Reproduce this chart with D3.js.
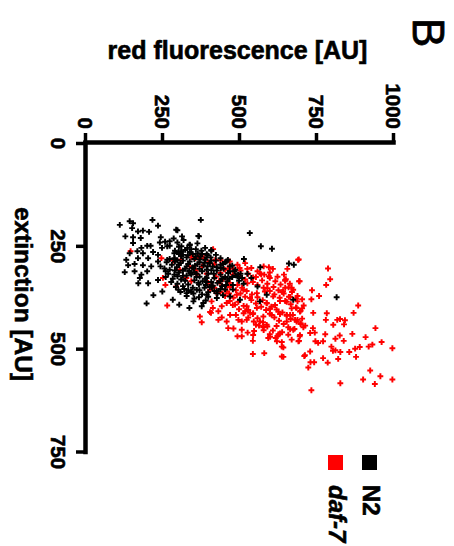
<!DOCTYPE html>
<html>
<head>
<meta charset="utf-8">
<script src="https://cdn.jsdelivr.net/npm/d3@7"></script>
<style>
    body { margin: 0; background: #fff; }
    svg { display: block; font-family: "Liberation Sans", Arial, sans-serif; }
    .heavy { stroke: #000; stroke-width: 0.6px; }
</style>
</head>
<body>
<svg id="chart" width="454" height="546"></svg>
<script>
// Axis ticks
const fluorTicks = [0, 250, 500, 750, 1000];
const extTicks = [0, 250, 500, 750];

// Legend
const seriesNames = ['N2', 'daf-7'];
const seriesColors = ['#000000', '#ff0000'];

// Points as [extinction, red fluorescence]
const n2Points = [
    [187,376],[227,370],[219,535],[251,571],[257,607],[260,410],[282,516],[284,464],[293,662],[296,678],
    [302,569],[320,497],[318,527],[349,560],[328,540],[273,397],[292,405],[304,441],[375,817],[199,113],
    [190,145],[195,156],[187,219],[201,237],[207,153],[215,172],[213,188],[216,208],[211,296],[227,131],
    [229,156],[231,181],[229,246],[227,315],[239,275],[242,243],[243,156],[250,202],[250,213],[255,183],
    [251,267],[251,313],[255,332],[247,340],[263,170],[268,188],[265,221],[272,237],[268,145],[265,304],
    [273,334],[284,134],[280,172],[280,205],[288,237],[284,267],[282,291],[297,140],[294,161],[297,188],
    [300,215],[314,129],[312,161],[320,183],[312,202],[328,178],[341,205],[333,237],[390,200],[370,222],
    [341,173],[361,251],[381,285],[393,306],[401,339],[397,379],[212,300],[226,368],[357,303],[365,330],
    [357,363],[369,395],[377,428],[373,471],[381,503],[385,352],[389,384],[385,568],[369,590],[381,676],
    [300,330],[305,352],[310,318],[295,365],[312,380],[320,345],[318,362],[325,372],[330,390],[288,340],
    [292,310],[302,298],[315,305],[322,330],[334,355],[340,368],[345,392],[338,410],[328,420],[318,400],
    [308,395],[298,385],[290,372],[282,355],[278,330],[285,300],[296,282],[308,275],[320,290],[332,312],
    [344,335],[352,350],[358,372],[350,405],[340,430],[330,445],[320,440],[310,428],[300,415],[292,405],
    [284,390],[276,375],[270,350],[272,318],[280,290],[290,265],[305,258],[318,270],[330,285],[342,300],
    [355,322],[362,345],[368,380],[360,420],[348,445],[336,462],[326,478],[316,465],[306,450],[296,440],
    [286,425],[278,408],[270,395],[262,378],[265,340],[275,312],[268,290],[282,275],[300,245],[312,262],
    [326,262],[338,280],[350,295],[362,310],[372,330],[378,355],[374,400],[366,430],[356,455],[345,480],
    [335,500],[325,495],[312,485],[300,470],[290,455],[280,440],[272,425],[262,410],[255,390],[258,360],
    [260,325],[252,305],[262,292],[248,340],[242,300],[250,275],[236,320],[244,365],[240,260],[255,250],
    [232,288],[286,318],[294,335],[303,348],[311,338],[298,357],[306,372],[314,355],[323,318],[328,395],
    [336,382],[344,370],[352,388],[347,415],[336,440],[326,455],[318,418],[309,410],[300,398],[291,388],
    [283,372],[276,360],[268,366],[258,345],[263,312],[270,305],[288,292],[296,305],[310,292],[324,300],
    [335,325],[348,318],[358,335],[366,352],[375,370],[383,392],[363,400],[355,440],[345,458],[330,468],
    [322,490],[312,470],[302,428],[294,448],[286,410],[278,395],[270,380],[306,325],[316,342],[326,362],
    [338,395],[350,412],[360,428],[370,448],[356,480],[342,515],[328,510],[318,505],[308,488],[298,478],
    [288,460]
];

const daf7Points = [
    [283,694],[305,789],[336,695],[331,796],[345,783],[358,737],[372,760],[380,735],[395,887],[402,705],
    [413,741],[414,785],[413,872],[427,705],[438,700],[444,715],[448,709],[450,740],[430,782],[430,819],
    [428,828],[431,844],[442,806],[441,841],[450,943],[462,731],[461,746],[465,780],[468,827],[464,868],
    [470,697],[481,695],[482,748],[486,757],[482,773],[476,813],[481,840],[472,911],[484,963],[490,933],
    [495,921],[496,892],[500,877],[495,800],[505,805],[504,813],[508,829],[508,858],[499,998],[507,731],
    [518,712],[523,773],[525,822],[520,880],[533,732],[533,744],[534,788],[546,725],[553,926],[575,903],
    [567,959],[575,998],[586,941],[584,829],[601,735],
    [395,267],[422,373],[436,379],[413,409],[430,433],[424,444],[450,465],[434,460],[418,490],[434,509],
    [454,509],[470,495],[470,509],[461,528],[481,545],[513,545],[511,582],[457,549],[442,555],[448,579],
    [442,590],[434,568],[474,595],[474,619],[482,623],[465,628],[497,644],[519,639],[484,639],[466,660],
    [454,676],[478,671],[482,693],[434,687],[434,655],[418,666],[416,633],[418,606],[403,601],[413,536],
    [409,520],[418,471],[409,433],[411,406],
    [258,416],[284,692],[302,597],[304,502],[306,527],[306,481],[306,657],[327,546],[319,572],[324,597],
    [320,646],[333,650],[336,697],[353,592],[351,661],[341,527],[280,386],[278,370],[284,423],[263,148],
    [280,358],[280,248],[286,286],[284,311],[278,345],[277,367],[328,253],[345,261],[349,296],[328,329],
    [336,345],[320,365],[300,340],[308,308],
    [317,568],[331,652],[352,671],[362,640],[374,666],[378,685],[386,655],[384,633],[394,617],[402,671],
    [410,698],[430,682],[418,655],[410,628],[422,579],[414,546],[430,525],[447,579],[445,622],[453,666],
    [463,633],[471,601],[467,698],[467,546],[430,498],[451,482],[495,639],[520,644],[516,714],
    [357,406],[365,427],[361,460],[369,493],[357,514],[377,536],[365,558],[361,584],[373,611],[361,643],
    [357,676],[389,590],[401,687],[393,487],[389,460],[397,525],[401,558],[385,411],[397,444],[401,415],
    [330,450],[340,470],[345,495],[352,510],[360,525],[368,542],[375,560],[382,577],[390,590],[398,605],
    [405,622],[412,641],[420,655],[428,668],[320,480],[325,500],[332,520],[338,545],[345,560],[352,580],
    [360,600],[368,615],[376,632],[384,650],[392,668],[400,685],[408,700],[310,505],[318,530],[326,555],
    [334,575],[342,592],[350,612],[358,628],[366,645],[374,662],[385,690],[395,710],[350,470],[358,490],
    [366,505],[374,520],[382,540],[390,555],[398,572],[406,588],[415,600],[424,615],[432,630],[440,645],
    [448,660],[300,470],[308,455],[316,440],[325,425],[336,435],[346,445],[356,455],[366,468],[376,482],
    [386,498],[396,515],[406,530],[416,545],[426,560],[436,578],[446,592],[456,610],[304,540],[312,560],
    [320,582],[328,600],[336,618],[344,635],[352,650],[362,672],[372,690],[380,705],[315,600],[325,625],
    [335,650],[342,665],[300,580],[306,610],[292,520],[296,495],[288,470],[340,400],[352,420],[362,440],
    [372,455],[384,470],[394,480],[404,500],[414,515],[424,530],[434,548],[444,565],[455,580],[465,600],
    [470,625],[460,640],[452,680],[440,700],[430,690],[418,675],[300,380],[310,360],[295,420],[318,395],
    [285,440],[305,465],[290,400]
];

const svg = d3.select('#chart');

// Figure is turned a quarter clockwise: fluorescence runs right, extinction runs down
const x = d3.scaleLinear().domain([0, 1000]).range([85, 393]);
const y = d3.scaleLinear().domain([0, 750]).range([143, 451.5]);

// ── Points ───────────────────────────────────────────
const cross = d3.symbol().type(d3.symbolCross).size(19);

svg.append('g').selectAll('path')
    .data(daf7Points)
    .join('path')
    .attr('transform', d => `translate(${x(d[1])},${y(d[0])})`)
    .attr('d', cross)
    .attr('fill', seriesColors[1]);

svg.append('g').selectAll('path')
    .data(n2Points)
    .join('path')
    .attr('transform', d => `translate(${x(d[1])},${y(d[0])})`)
    .attr('d', cross)
    .attr('fill', seriesColors[0]);

// ── Axes ─────────────────────────────────────────────
const fluorAxis = svg.append('g')
    .attr('transform', 'translate(0,142)')
    .call(d3.axisTop(x).tickValues(fluorTicks).tickFormat(d3.format('d')).tickSize(9).tickSizeOuter(0));

const extAxis = svg.append('g')
    .attr('transform', 'translate(85,0)')
    .call(d3.axisLeft(y).tickValues(extTicks).tickFormat(d3.format('d')).tickSize(9).tickSizeOuter(0));

for (const g of [fluorAxis, extAxis]) {
    g.attr('font-family', null).attr('font-size', 20.5).attr('font-weight', 'bold');
    g.select('.domain').attr('stroke', '#000').attr('stroke-width', 4.5).attr('stroke-linecap', 'square');
    g.selectAll('.tick line').attr('stroke', '#000').attr('stroke-width', 3.5);
    g.selectAll('.tick text').attr('fill', '#000').attr('class', 'heavy').attr('x', 0).attr('y', 0);
}

fluorAxis.selectAll('.tick text')
    .attr('dy', '0.36em')
    .attr('text-anchor', 'end')
    .attr('transform', 'translate(0,-13) rotate(90)');

extAxis.selectAll('.tick text')
    .attr('dy', null)
    .attr('text-anchor', 'middle')
    .attr('transform', 'translate(-34,0) rotate(90)');

// ── Titles ───────────────────────────────────────────
svg.append('text')
    .attr('class', 'heavy')
    .attr('x', 237.5)
    .attr('y', 59)
    .attr('text-anchor', 'middle')
    .attr('font-size', 25)
    .attr('font-weight', 'bold')
    .text('red fluorescence [AU]');

svg.append('text')
    .attr('class', 'heavy')
    .attr('transform', 'translate(15,294) rotate(90)')
    .attr('text-anchor', 'middle')
    .attr('font-size', 24.5)
    .attr('font-weight', 'bold')
    .text('extinction [AU]');

svg.append('text')
    .attr('transform', 'translate(413,18) rotate(90)')
    .attr('font-size', 44)
    .attr('stroke', '#000')
    .attr('stroke-width', 0.8)
    .text('B');

// ── Legend ───────────────────────────────────────────
const legendX = [362, 328];
seriesNames.forEach((name, i) => {
    svg.append('rect')
        .attr('x', legendX[i]).attr('y', 455)
        .attr('width', 15).attr('height', 15)
        .attr('fill', seriesColors[i]);
    svg.append('text')
        .attr('class', 'heavy')
        .attr('transform', `translate(${legendX[i] + 1},485) rotate(90)`)
        .attr('font-size', 24)
        .attr('font-weight', 'bold')
        .attr('font-style', i === 1 ? 'italic' : 'normal')
        .text(name);
});
</script>
</body>
</html>
